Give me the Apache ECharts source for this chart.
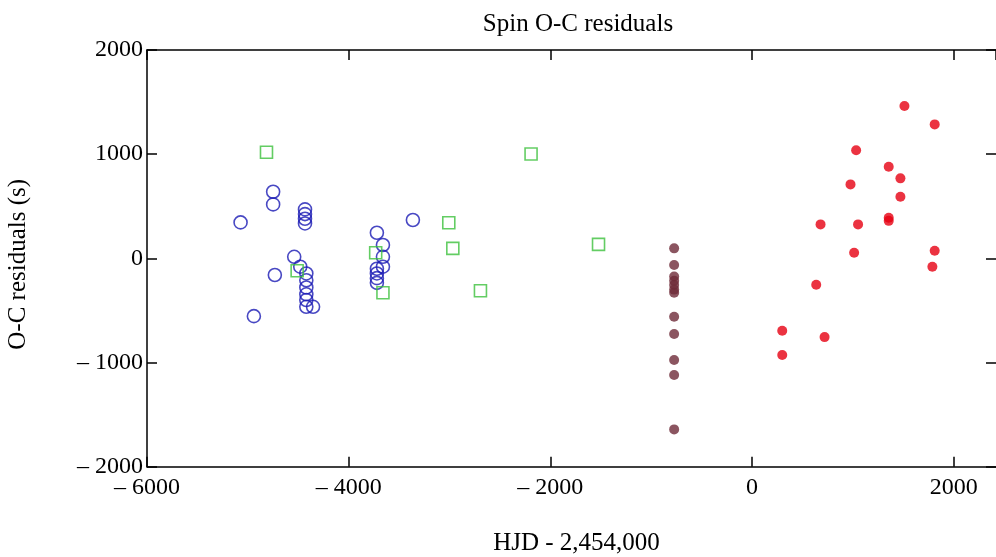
<!DOCTYPE html>
<html><head><meta charset="utf-8">
<script src="https://cdn.jsdelivr.net/npm/echarts@6/dist/echarts.min.js"></script>
<style>html,body{margin:0;padding:0;background:#fff}#c{width:996px;height:557px}</style>
</head><body><div id="c"></div>
<script>
// Data (HJD - 2,454,000 vs O-C residual, s)
const blueX = [-5072,-4749,-4749,-4433,-4433,-4433,-4433,-4540,-4480,-4420,-4420,-4420,-4420,-4420,-4420,-4353,-4732,-4940,-3720,-3660,-3660,-3660,-3720,-3720,-3720,-3720,-3363];
const blueY = [345,639,518,470,425,380,335,15,-80,-145,-210,-280,-345,-400,-465,-465,-160,-555,246,128,15,-80,-100,-145,-190,-235,368];
const greenX = [-4815,-4511,-3732,-3660,-3007,-2967,-2191,-2693,-1522];
const greenY = [1018,-119,54,-330,342,96,1001,-311,134];
const brownX = [-772,-772,-772,-772,-772,-772,-772,-772,-772,-772,-772,-772];
const brownY = [96,-64,-175,-215,-255,-300,-330,-560,-727,-976,-1120,-1642];
const redX = [1512,1812,1033,1356,1472,977,1472,1356,1356,680,1052,1013,1812,1789,637,300,720,300];
const redY = [1462,1286,1037,879,768,710,591,360,390,326,326,54,73,-80,-253,-695,-756,-928];
const xTicks = {min:-6000, max:2420, interval:2000};
const yTicks = {min:-2000, max:2000, interval:1000};

const zip = (a,b) => a.map((v,i)=>[v,b[i]]);
const font = 'Liberation Serif';
const fmt = v => v < 0 ? '\u2013 ' + Math.abs(v) : String(v);
const lineCol = {color:'#000', width:1.5};
const axisCommon = {
  axisLine:{show:true, onZero:false, lineStyle:lineCol},
  axisTick:{show:true, inside:true, length:10, lineStyle:lineCol},
  splitLine:{show:false}
};
const chart = echarts.init(document.getElementById('c'));
chart.setOption({
  animation:false,
  backgroundColor:'#fff',
  title:{text:'Spin O-C residuals', left:573, top:7, textAlign:'center',
    textStyle:{fontFamily:font, fontSize:25, fontWeight:'normal', color:'#000'}},
  grid:{left:147, top:50, right:0, height:416.7, containLabel:false, outerBoundsMode:'none'},
  xAxis:[
    Object.assign({type:'value', position:'bottom', min:xTicks.min, max:xTicks.max, interval:xTicks.interval,
      name:'HJD - 2,454,000', nameLocation:'middle', nameGap:64,
      nameTextStyle:{fontFamily:font, fontSize:25, color:'#000', padding:[0,0,0,10]},
      axisLabel:{formatter:fmt, fontFamily:font, fontSize:24, color:'#000', margin:9.5,
        showMaxLabel:false}}, axisCommon),
    Object.assign({type:'value', position:'top', min:xTicks.min, max:xTicks.max, interval:xTicks.interval,
      axisLabel:{show:false}}, axisCommon)
  ],
  yAxis:[
    Object.assign({type:'value', position:'left', min:yTicks.min, max:yTicks.max, interval:yTicks.interval,
      name:'O-C residuals (s)', nameLocation:'middle', nameGap:116, nameRotate:90,
      nameTextStyle:{fontFamily:font, fontSize:25, color:'#000', padding:[0,12,0,0]},
      axisLabel:{formatter:fmt, fontFamily:font, fontSize:24, color:'#000', margin:4}}, axisCommon),
    {type:'value', position:'right', min:yTicks.min, max:yTicks.max, interval:yTicks.interval,
      axisLabel:{show:false}, axisLine:{show:false, onZero:false},
      axisTick:{show:true, inside:true, length:10, lineStyle:lineCol}, splitLine:{show:false}}
  ],
  series:[
    {type:'scatter', data:zip(blueX,blueY), symbol:'circle', symbolSize:13,
      itemStyle:{color:'rgba(0,0,0,0)', borderColor:'#1a1ab4', borderWidth:1.6}},
    {type:'scatter', data:zip(greenX,greenY), symbol:'rect', symbolSize:12,
      itemStyle:{color:'rgba(0,0,0,0)', borderColor:'#3cc03c', borderWidth:1.6}},
    {type:'scatter', data:zip(brownX,brownY), symbol:'circle', symbolSize:10,
      itemStyle:{color:'#6e2a38'}},
    {type:'scatter', data:zip(redX,redY), symbol:'circle', symbolSize:10,
      itemStyle:{color:'#e60012'}}
  ]
});
</script></body></html>
